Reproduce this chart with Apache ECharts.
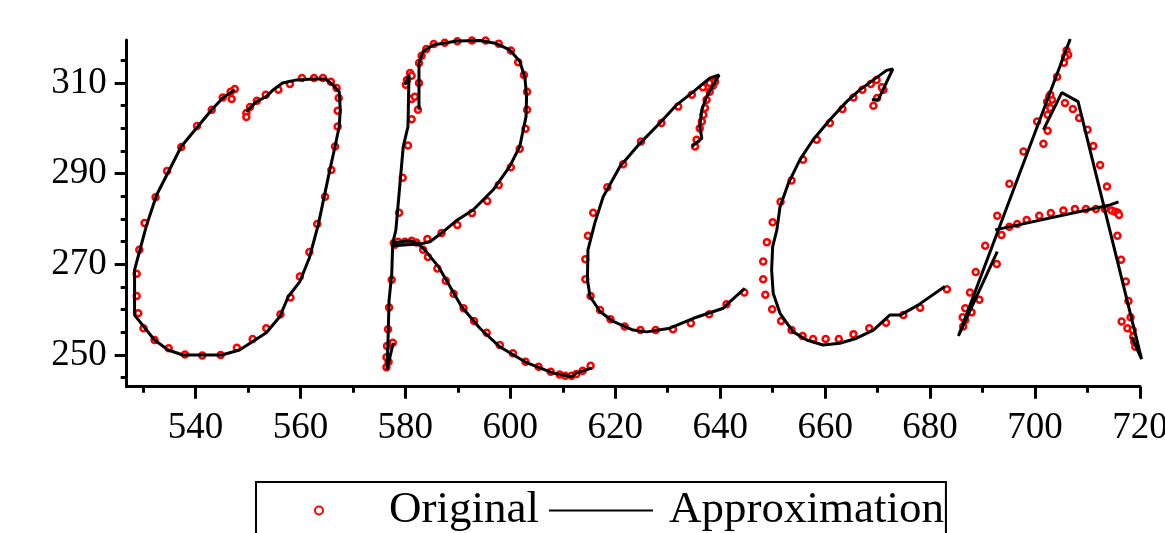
<!DOCTYPE html>
<html>
<head>
<meta charset="utf-8">
<script src="https://cdn.jsdelivr.net/npm/echarts@6/dist/echarts.min.js"></script>
<style>
  html, body { margin: 0; padding: 0; background: #fff; }
  #chart { width: 1165px; height: 533px; }
</style>
</head>
<body>
<div id="chart"></div>
<script>
// tick values
const xMajorTicks = [540, 560, 580, 600, 620, 640, 660, 680, 700, 720];
const xMinorTicks = [530, 550, 570, 590, 610, 630, 650, 670, 690, 710];
const yMajorTicks = [250, 270, 290, 310];
const yMinorTicks = [245, 255, 260, 265, 275, 280, 285, 295, 300, 305, 315];

// original sample points, one list per letter
const origO = [[547.5,308.7],[546.7,308.1],[546.9,306.5],[545.2,306.8],[543.1,304.1],[540.3,300.5],[537.3,295.9],[534.6,290.6],[532.4,284.8],[530.3,279.1],[529.3,273.2],[528.8,267.9],[528.8,263.0],[529.1,259.2],[530.1,255.9],[532.2,253.3],[534.9,251.5],[538.0,250.1],[541.3,249.9],[544.8,250.0],[547.9,251.6],[550.9,253.5],[553.5,255.9],[556.2,259.0],[558.1,262.7],[559.9,267.3],[561.7,272.7],[563.2,278.9],[564.7,284.9],[565.9,290.8],[566.6,296.0],[567.1,300.4],[567.1,303.9],[567.3,306.7],[566.9,308.9],[565.8,310.3],[564.3,311.1],[562.6,311.1],[560.3,311.1],[558.0,309.8],[555.8,308.5],[553.4,307.4],[551.7,306.1],[550.4,304.7],[549.7,303.4],[549.7,302.5]];
const origR = [[577.6,252.7],[576.4,247.3],[576.8,248.5],[576.4,249.5],[576.5,252.0],[576.7,255.7],[576.9,260.5],[577.4,266.6],[577.8,274.7],[578.0,274.3],[578.8,281.4],[579.5,289.1],[580.5,296.2],[581.2,302.0],[581.2,306.5],[581.8,307.0],[580.1,309.6],[580.9,312.2],[581.2,311.6],[580.3,310.7],[582.6,310.0],[582.4,304.1],
  [582.6,314.4],[583.1,316.0],[584.0,317.5],[585.4,318.6],[587.5,318.9],[589.9,319.2],[592.7,319.4],[595.3,319.4],[597.8,318.7],[600.1,317.2],[601.5,314.6],[602.6,311.8],[603.2,308.1],[603.2,304.1],[602.9,299.9],[601.8,295.5],[600.1,291.4],[597.8,287.5],[595.6,284.0],[592.7,281.3],[589.9,278.7],[586.9,276.9],[584.2,275.6],
  [578.6,275.0],[579.9,275.0],[581.2,275.2],[582.1,274.8],
  [583.4,273.2],[584.3,271.6],[586.1,269.1],[587.7,266.4],[589.2,263.5],[591.1,260.3],[593.1,257.5],[595.5,254.9],[598.0,252.2],[600.5,250.4],[602.9,248.5],[605.4,247.4],[607.7,246.3],[609.4,245.7],[610.5,245.4],[611.7,245.4],[612.6,245.8],[613.8,246.5],[615.3,247.6]];
const origC1 = [[635.2,296.0],[635.5,297.5],[636.1,300.0],[636.5,301.5],[636.8,303.0],[637.1,304.5],[637.4,306.3],[638.0,308.1],[638.6,309.4],[638.0,310.0],[639.0,310.3],[636.7,309.1],[634.6,307.4],[632.0,304.8],[628.8,301.2],[624.9,297.1],[621.5,292.1],[618.5,287.0],[615.8,281.4],[614.8,276.3],[614.3,271.1],[614.3,266.7],[615.3,263.0],[617.1,259.9],[619.1,257.9],[621.8,256.3],[624.8,255.5],[627.7,255.5],[631.0,255.7],[634.4,257.0],[637.9,259.0],[641.2,261.2],[644.6,263.8]];
const origC2 = [[669.2,305.0],[669.9,306.7],[671.1,308.5],[670.8,309.1],[669.8,310.7],[668.7,309.8],[667.1,308.5],[665.4,306.8],[663.3,304.3],[660.9,301.2],[658.4,297.5],[655.8,293.1],[653.6,288.5],[651.5,283.8],[650.0,279.3],[648.9,274.9],[648.2,270.6],[648.2,266.7],[648.6,263.3],[649.9,260.1],[651.6,257.5],[653.6,255.5],[655.7,254.2],[657.7,253.5],[660.1,253.5],[662.6,253.5],[665.4,254.6],[668.4,255.9],[671.6,257.1],[674.9,258.8],[678.1,260.4],[683.2,264.5]];
const origA = [[686.3,256.3],[686.7,257.7],[686.2,258.3],[687.9,259.4],[686.7,260.3],[689.4,262.2],[687.6,263.8],[688.7,268.3],[692.7,270.1],[690.5,274.1],[692.8,280.7],[695.1,287.8],[697.8,294.9],[701.6,296.6],[700.4,301.5],[702.4,299.5],[702.4,303.0],[702.9,304.5],[702.7,307.0],[703.2,306.3],[702.3,305.9],[702.9,307.4],[704.2,311.4],[705.5,314.5],[706.0,317.2],[706.3,316.2],[705.7,315.8],
  [705.7,305.6],[707.2,304.3],[708.4,302.3],[710.0,299.7],[711.1,296.1],[712.4,291.9],[713.7,287.2],[715.7,276.3],[716.4,271.0],[717.3,266.2],[717.8,261.9],[718.2,258.3],[716.5,257.4],[717.6,255.9],[718.6,255.5],[718.7,254.0],[718.9,252.9],[719.1,251.8],
  [693.6,276.5],[695.1,278.3],[696.6,278.9],[698.4,279.8],[700.8,280.7],[703.0,281.3],[705.4,281.9],[707.6,282.2],[709.7,282.2],[711.6,282.2],[713.3,282.2],[714.6,281.9],[715.3,281.6],[715.8,281.4],[716.0,280.9]];

// approximation strokes
const approxO = [[547.5,308.5],[545.2,306.7],[543.1,304.1],[537.3,296.0],[532.6,285.3],[530.7,278.7],[528.4,268.8],[528.4,258.8],[532.2,253.3],[534.8,251.1],[537.6,250.0],[545.0,250.0],[548.4,251.1],[553.5,254.9],[556.1,258.5],[557.7,262.9],[559.9,266.2],[561.7,271.4],[563.4,278.7],[565.6,290.8],[566.6,296.0],[567.4,300.4],[567.6,304.1],[567.4,308.1],[566.2,309.6],[564.8,310.9],[562.4,310.9],[559.3,310.7],[556.6,310.0],[554.8,308.5],[553.5,307.0],[551.6,305.9],[549.7,303.7]];
const approxR1 = [[577.7,252.7],[576.5,246.7],[576.7,253.3],[576.9,262.1],[577.4,267.7],[577.6,274.7],[578.2,277.6],[579.6,296.0],[580.5,300.4],[580.7,311.8],[579.9,309.6]];
const approxR2 = [[582.6,304.1],[582.6,314.4],[583.4,317.0],[585.3,318.4],[589.8,319.3],[594.2,319.4],[597.1,318.8],[599.9,317.3],[601.8,314.8],[602.8,311.1],[603.1,307.0],[603.0,302.6],[601.8,296.0],[599.9,291.6],[596.7,286.4],[592.9,282.0],[589.9,279.8],[586.9,276.9],[584.7,275.0],[582.8,274.5],[580.9,275.2],[578.0,274.8],[577.7,274.1],[582.4,274.5],[583.7,273.2],[586.3,269.5],[590.7,260.7],[594.2,255.9],[598.0,251.8],[603.1,248.3],[608.2,246.0],[611.7,245.2],[612.6,246.0],[615.5,247.1]];
const approxC1 = [[634.6,296.0],[636.5,297.8],[636.1,300.4],[636.5,304.1],[637.4,307.0],[638.7,309.6],[639.8,311.8],[638.0,311.1],[634.9,308.1],[631.7,305.2],[628.5,301.2],[624.7,296.7],[620.9,291.6],[617.7,284.9],[616.1,279.1],[614.8,273.2],[614.7,266.6],[615.2,262.9],[617.1,259.6],[619.6,257.4],[623.4,255.5],[626.0,255.1],[630.4,255.9],[634.9,258.1],[640.6,260.3],[641.5,261.4],[644.7,264.7]];
const approxC2 = [[668.9,306.3],[670.1,306.3],[672.9,313.1],[671.7,312.8],[669.2,310.7],[666.6,308.5],[664.1,305.9],[660.9,301.9],[657.7,297.5],[655.2,293.1],[653.0,287.9],[651.4,282.7],[650.8,277.6],[650.0,273.9],[649.8,268.8],[650.1,263.6],[651.4,259.2],[653.9,255.1],[656.5,253.3],[659.6,252.2],[662.8,252.6],[666.0,253.7],[669.2,255.5],[672.3,258.8],[674.3,258.8],[677.7,261.0],[682.8,265.1]];
const approxA1 = [[692.8,272.8],[685.4,254.2],[706.7,319.7]];
const approxA2 = [[701.6,299.7],[705.1,307.9],[708.2,305.9],[720.3,249.1],[718.4,254.0]];
const approxA3 = [[692.4,277.6],[714.3,283.1],[715.9,283.8]];

const X_MIN = 526.9, X_MAX = 720;
const Y_MIN = 243, Y_MAX = 319.5;
const GRID = { left: 126.7, right: 25, top: 40, bottom: 146.3 };
const serif = '"Liberation Serif", "Times New Roman", serif';

const chart = echarts.init(document.getElementById('chart'));

const approxStrokes = [approxO, approxR1, approxR2, approxC1, approxC2, approxA1, approxA2, approxA3];

const option = {
  animation: false,
  backgroundColor: '#fff',
  grid: Object.assign({ containLabel: false, outerBoundsMode: 'none' }, GRID),
  legend: {
    left: 256,
    top: 482,
    orient: 'horizontal',
    // scatter icon box starts at the circle itself, hence the wide left padding
    padding: [6, 2, 12, 58],
    itemGap: 9,
    itemWidth: 104,
    itemHeight: 8,
    borderColor: '#000',
    borderWidth: 2,
    selectedMode: false,
    textStyle: { fontFamily: serif, fontSize: 45, color: '#000' },
    data: [
      { name: 'Original', textStyle: { padding: [0, 0, 0, 13] } },
      { name: 'Approximation', itemStyle: { opacity: 0 }, textStyle: { padding: [0, 0, 0, 11] } }
    ]
  },
  xAxis: [
    {
      type: 'value', min: X_MIN, max: X_MAX, position: 'bottom',
      axisLine: { show: true, onZero: false, lineStyle: { color: '#000', width: 3 } },
      axisTick: { show: true, customValues: xMajorTicks, length: 12, lineStyle: { color: '#000', width: 3 } },
      axisLabel: { customValues: xMajorTicks, color: '#000', fontFamily: serif, fontSize: 37, margin: 23 },
      splitLine: { show: false }
    },
    {
      // minor ticks, moved down onto the bottom edge
      type: 'value', min: X_MIN, max: X_MAX, position: 'top',
      offset: -(533 - GRID.bottom - GRID.top),
      axisLine: { show: false, onZero: false },
      axisTick: { show: true, inside: true, customValues: xMinorTicks, length: 6, lineStyle: { color: '#000', width: 3 } },
      axisLabel: { show: false },
      splitLine: { show: false }
    }
  ],
  yAxis: [
    {
      type: 'value', min: Y_MIN, max: Y_MAX, position: 'left',
      axisLine: { show: true, onZero: false, lineStyle: { color: '#000', width: 3 } },
      axisTick: { show: true, customValues: yMajorTicks, length: 12, lineStyle: { color: '#000', width: 3 } },
      axisLabel: { customValues: yMajorTicks, color: '#000', fontFamily: serif, fontSize: 37, margin: 20 },
      splitLine: { show: false }
    },
    {
      type: 'value', min: Y_MIN, max: Y_MAX, position: 'right',
      offset: -(1165 - GRID.left - GRID.right),
      axisLine: { show: false, onZero: false },
      axisTick: { show: true, inside: true, customValues: yMinorTicks, length: 6, lineStyle: { color: '#000', width: 3 } },
      axisLabel: { show: false },
      splitLine: { show: false }
    }
  ],
  series: [
    {
      name: 'Original',
      type: 'scatter',
      symbol: 'circle',
      symbolSize: 6,
      itemStyle: { color: '#ffffff', borderColor: '#ff0000', borderWidth: 2.5, opacity: 1 },
      data: [].concat(origO, origR, origC1, origC2, origA),
      z: 2
    }
  ].concat(approxStrokes.map(stroke => ({
    name: 'Approximation',
    type: 'line',
    symbol: 'none',
    clip: false,
    lineStyle: { color: '#000', width: 3 },
    itemStyle: { color: '#000' },
    data: stroke,
    z: 3
  })))
};

chart.setOption(option);
</script>
</body>
</html>
